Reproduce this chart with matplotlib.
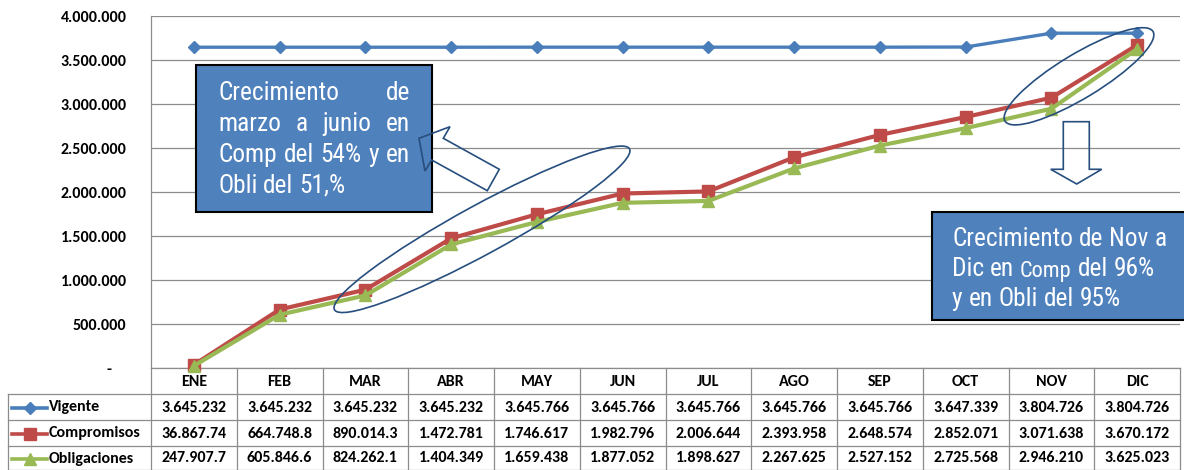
import matplotlib
matplotlib.use("Agg")
import matplotlib.pyplot as plt
from matplotlib import font_manager as fm
from matplotlib.patches import Ellipse, Polygon, Rectangle
from matplotlib.transforms import Affine2D, blended_transform_factory
import numpy as np

# ---------------- data ----------------
months = ["ENE", "FEB", "MAR", "ABR", "MAY", "JUN", "JUL", "AGO", "SEP", "OCT", "NOV", "DIC"]
vigente = [3645232, 3645232, 3645232, 3645232, 3645766, 3645766, 3645766, 3645766,
           3645766, 3647339, 3804726, 3804726]
compromisos = [36867.74, 664748.8, 890014.3, 1472781, 1746617, 1982796, 2006644,
               2393958, 2648574, 2852071, 3071638, 3670172]
obligaciones = [24790.77, 605846.6, 824262.1, 1404349, 1659438, 1877052, 1898627,
                2267625, 2527152, 2725568, 2946210, 3625023]
vigente_txt = ["3.645.232", "3.645.232", "3.645.232", "3.645.232", "3.645.766", "3.645.766",
               "3.645.766", "3.645.766", "3.645.766", "3.647.339", "3.804.726", "3.804.726"]
compromisos_txt = ["36.867.74", "664.748.8", "890.014.3", "1.472.781", "1.746.617", "1.982.796",
                   "2.006.644", "2.393.958", "2.648.574", "2.852.071", "3.071.638", "3.670.172"]
obligaciones_txt = ["247.907.7", "605.846.6", "824.262.1", "1.404.349", "1.659.438", "1.877.052",
                    "1.898.627", "2.267.625", "2.527.152", "2.725.568", "2.946.210", "3.625.023"]
series_names = ["Vigente", "Compromisos", "Obligaciones"]
y_ticks = [0, 500000, 1000000, 1500000, 2000000, 2500000, 3000000, 3500000, 4000000]
y_tick_labels = ["-    ", "500.000", "1.000.000", "1.500.000", "2.000.000", "2.500.000",
                 "3.000.000", "3.500.000", "4.000.000"]
box1_lines = ["Crecimiento de", "marzo a junio en", "Comp del 54% y en", "Obli del 51,%"]
box2_lines = ["Crecimiento de Nov a", "Dic en Comp del 96%", "y en Obli del 95%"]


def pick(*names):
    for n in names:
        try:
            fm.findfont(fm.FontProperties(family=n), fallback_to_default=False)
            return n
        except Exception:
            pass
    return "DejaVu Sans"


def narrow_font():
    prefs = ["liberationsansnarrow", "arialnarrow", "robotocondensed", "notosans-condensed",
             "notosanscondensed", "opensans_condensed", "opensans-condensed", "opensanscondensed",
             "narrow", "condensed"]
    bad = ["bold", "italic", "light", "black", "thin", "medium", "semi", "extra", "oblique",
           "dejavu", "mono", "serif"]
    cands = []
    for f in fm.fontManager.ttflist:
        fn = f.fname.lower().replace(" ", "")
        base = fn.rsplit("/", 1)[-1]
        if any(b in base for b in bad):
            continue
        for rank, p in enumerate(prefs):
            if p in base:
                cands.append((rank, f.fname))
                break
    if cands:
        cands.sort()
        return fm.FontProperties(fname=cands[0][1])
    return fm.FontProperties(family=pick("Liberation Sans", "Arimo", "DejaVu Sans"))


LBL_FONT = pick("Carlito", "Lato", "DejaVu Sans")
BOX_PROPS = narrow_font()

BLUE = "#4A7EBB"
RED = "#BE4B48"
GREEN = "#98B954"
GRID = "#8C8C8C"
SHAPE = "#264E7E"
BOXFILL = "#4F81BD"
LBL_FS = 11.5

W, H = 1184, 470
fig = plt.figure(figsize=(W / 100, H / 100), dpi=100)
T = Affine2D().scale(1 / W, -1 / H).translate(0, 1) + fig.transFigure  # pixel coords (y down)

AX_L, AX_R, AX_T, AX_B = 151, 1180, 16, 368
ax = fig.add_axes([AX_L / W, 1 - AX_B / H, (AX_R - AX_L) / W, (AX_B - AX_T) / H])
xs = np.arange(len(months))
ax.set_xlim(-0.5, len(months) - 0.5)
ax.set_ylim(0, 4000000)
ax.set_yticks(y_ticks)
ax.set_yticklabels(y_tick_labels, family=LBL_FONT, fontweight="bold", fontsize=LBL_FS)
ax.set_xticks([])
ax.tick_params(axis="y", length=0, pad=17.5)
ax.grid(axis="y", color=GRID, lw=0.9)
ax.set_axisbelow(True)
for s in ["top", "right"]:
    ax.spines[s].set_visible(False)
for s in ["left", "bottom"]:
    ax.spines[s].set_color(GRID)
    ax.spines[s].set_linewidth(0.9)

ax.plot(xs, vigente, color=BLUE, lw=2.4, marker="D", ms=6, zorder=4, clip_on=False)
ax.plot(xs, compromisos, color=RED, lw=3.0, marker="s", ms=9, zorder=5, clip_on=False)
ax.plot(xs, obligaciones, color=GREEN, lw=3.0, marker="^", ms=9, zorder=6, clip_on=False)

# ---------------- data table ----------------
unit = (AX_R - AX_L) / len(months)


def dx(p):
    return (p - AX_L) / unit - 0.5


tr = blended_transform_factory(ax.transData, T)
rows_y = [368, 394, 420, 446, 470]
lab_left = dx(8)
for yb in rows_y[1:-1] + [469.5]:
    ax.plot([lab_left, len(months) - 0.5], [yb, yb], transform=tr, color=GRID, lw=0.9, clip_on=False)
for k in range(len(months) + 1):
    ax.plot([k - 0.5, k - 0.5], [368, 470], transform=tr, color=GRID, lw=0.9, clip_on=False)
ax.plot([lab_left, lab_left], [394, 470], transform=tr, color=GRID, lw=0.9, clip_on=False)

tfont = dict(family=LBL_FONT, fontweight="bold", fontsize=LBL_FS, transform=tr, clip_on=False)
for i, m in enumerate(months):
    ax.text(i, 381.5, m, ha="center", va="center", **tfont)
row_txt = [vigente_txt, compromisos_txt, obligaciones_txt]
row_cols = [BLUE, RED, GREEN]
row_mk = [("D", 6), ("s", 9), ("^", 9)]
for r, (vals, col, (mk, ms), name) in enumerate(zip(row_txt, row_cols, row_mk, series_names)):
    yc = (rows_y[r + 1] + rows_y[r + 2]) / 2 + 0.5
    for i, v in enumerate(vals):
        ax.text(i, yc, v, ha="center", va="center", **tfont)
    ax.plot([dx(12), dx(47)], [yc, yc], transform=tr, color=col, lw=2.6, clip_on=False)
    ax.plot([dx(29.5)], [yc], transform=tr, color=col, marker=mk, ms=ms, clip_on=False)
    ax.text(dx(49), yc, name, ha="left", va="center", **tfont)

# ---------------- annotation shapes ----------------
fig.add_artist(Rectangle((196, 65), 236, 147, transform=T, fc=BOXFILL, ec="black", lw=1.5, zorder=5))
fig.add_artist(Rectangle((932, 211.5), 260, 108.5, transform=T, fc=BOXFILL, ec="black", lw=1.5, zorder=5))

fig.add_artist(Ellipse((482, 229.3), 336, 49, angle=-28.6, transform=T, fill=False,
                       ec=SHAPE, lw=1.2, zorder=7))
fig.add_artist(Ellipse((1079, 76.3), 173, 44, angle=-31.2, transform=T, fill=False,
                       ec=SHAPE, lw=1.2, zorder=7))
arrow1 = [(443.3, 138.3), (450, 126.7), (419, 138.3), (425, 171), (431.7, 160),
          (487.3, 190.7), (499.3, 169.3)]
fig.add_artist(Polygon(arrow1, closed=True, fill=False, ec=SHAPE, lw=1.2, transform=T, zorder=7))
arrow2 = [(1063.3, 121.7), (1089.3, 121.7), (1089.3, 169.3), (1101.7, 169.3), (1076.7, 184),
          (1050.7, 169.3), (1063.3, 169.3)]
fig.add_artist(Polygon(arrow2, closed=True, fill=False, ec=SHAPE, lw=1.2, transform=T, zorder=7))

# ---------------- box texts ----------------
renderer = fig.canvas.get_renderer()


def text_width(s, size):
    t = fig.text(0, 0, s, fontproperties=BOX_PROPS, fontsize=size)
    w = t.get_window_extent(renderer).width
    t.remove()
    return w


# choose the size so that "Crecimiento" is about as wide as in the reference
BOX_FS = min(21.0, max(12.0, 19.0 * 121.0 / text_width("Crecimiento", 19.0)))
SPACE = text_width("a a", BOX_FS) - text_width("aa", BOX_FS)


def place_line(segments, x0, y, x1=None):
    texts = []
    for w, sz in segments:
        t = fig.text(0, 0, w, fontproperties=BOX_PROPS, fontsize=sz, color="white",
                     transform=T, ha="left", va="baseline", zorder=8)
        texts.append(t)
    widths = [t.get_window_extent(renderer).width for t in texts]
    if x1 is not None and len(texts) > 1:
        gap = (x1 - x0 - sum(widths)) / (len(texts) - 1)
    else:
        gap = SPACE
    x = x0
    for t, w in zip(texts, widths):
        t.set_position((x, y))
        x += w + gap


b1_base = [100, 131, 162, 193]
for i, line in enumerate(box1_lines):
    segs = [(w, BOX_FS) for w in line.split()]
    place_line(segs, 218, b1_base[i], 410 if i < len(box1_lines) - 1 else None)

b2_base = [246, 276.5, 306]
for i, line in enumerate(box2_lines):
    segs = [(w, BOX_FS * 0.88 if w == "Comp" else BOX_FS) for w in line.split()]
    place_line(segs, 952, b2_base[i])

fig.savefig("out.png", dpi=100)
